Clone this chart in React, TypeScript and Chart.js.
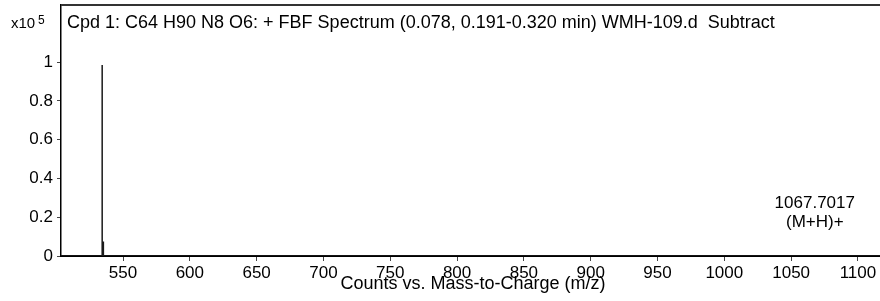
import { useEffect, useRef } from "react";
import { Chart, registerables } from "chart.js";

Chart.register(...registerables);

// ---- data ----
const peakMz = [534.35, 534.45, 535.3];
const peakCounts = [0.985, 0.74, 0.075]; // x10^5 counts
const xMin = 503.6;
const xMax = 1116.5;
const yMax = 1.294;
const xTicks = [550, 600, 650, 700, 750, 800, 850, 900, 950, 1000, 1050, 1100];
const yTicks = [0, 0.2, 0.4, 0.6, 0.8, 1];
const yTickLabels = ["0", "0.2", "0.4", "0.6", "0.8", "1"];
const titleText = "Cpd 1: C64 H90 N8 O6: + FBF Spectrum (0.078, 0.191-0.320 min) WMH-109.d  Subtract";
const xAxisTitle = "Counts vs. Mass-to-Charge (m/z)";
const yScaleText = "x10";
const yScaleExp = "5";
const annotMz = 1067.7017;
const annotY = 0.25;
const annotLines = ["1067.7017", "(M+H)+"];

const FONT = "'Liberation Sans', Arial, sans-serif";

function buildSpectrum() {
  const pts: { x: number; y: number }[] = [{ x: xMin, y: 0 }];
  peakMz.forEach((m, i) => {
    pts.push({ x: m - 0.02, y: 0 });
    pts.push({ x: m, y: peakCounts[i] });
    pts.push({ x: m + 0.02, y: 0 });
  });
  pts.push({ x: xMax, y: 0 });
  return pts;
}

const decorPlugin = {
  id: "decor",
  afterDraw(chart: any) {
    const { ctx, chartArea } = chart;
    const xs = chart.scales.x;
    const ys = chart.scales.y;
    ctx.save();
    // top frame line
    ctx.strokeStyle = "#333";
    ctx.lineWidth = 2;
    ctx.beginPath();
    ctx.moveTo(chartArea.left, chartArea.top);
    ctx.lineTo(chartArea.right, chartArea.top);
    ctx.stroke();

    ctx.fillStyle = "#000";
    ctx.textBaseline = "alphabetic";
    ctx.textAlign = "left";
    ctx.font = `18px ${FONT}`;
    ctx.fillText(titleText, chartArea.left + 6, 28);

    ctx.font = `15px ${FONT}`;
    ctx.fillText(yScaleText, 11, 28);
    ctx.font = `12px ${FONT}`;
    ctx.fillText(yScaleExp, 38, 24);

    // annotation
    ctx.textAlign = "center";
    ctx.font = `17px ${FONT}`;
    const ax = xs.getPixelForValue(annotMz);
    const ay = ys.getPixelForValue(annotY);
    ctx.fillText(annotLines[0], ax, ay);
    ctx.fillText(annotLines[1], ax, ay + 19);

    // x axis title
    ctx.font = `18px ${FONT}`;
    ctx.fillText(xAxisTitle, 473, 289);
    ctx.restore();
  },
};

export default function App() {
  const ref = useRef<HTMLCanvasElement>(null);
  useEffect(() => {
    document.body.style.margin = "0";
    const chart = new Chart(ref.current!, {
      type: "scatter",
      data: {
        datasets: [
          {
            data: buildSpectrum(),
            showLine: true,
            borderColor: "#1a1a1a",
            borderWidth: 1.5,
            pointRadius: 0,
            tension: 0,
          },
        ],
      },
      plugins: [decorPlugin],
      options: {
        animation: false,
        responsive: false,
        devicePixelRatio: 1,
        layout: { padding: { top: 5, right: 0, left: 0, bottom: 0 } },
        plugins: { legend: { display: false }, tooltip: { enabled: false } },
        scales: {
          x: {
            type: "linear",
            min: xMin,
            max: xMax,
            afterFit: (s: any) => {
              s.height = 45;
              s.paddingLeft = 0;
              s.paddingRight = 0;
            },
            afterBuildTicks: (s: any) => {
              s.ticks = xTicks.map((v) => ({ value: v }));
            },
            ticks: {
              color: "#000",
              font: { family: FONT, size: 17 },
              padding: 2,
              maxRotation: 0,
              autoSkip: false,
              callback: (v: any) => String(v),
            },
            grid: {
              display: true,
              drawOnChartArea: false,
              drawTicks: true,
              tickLength: 5,
              color: "#444",
              lineWidth: 1,
            },
            border: { display: true, color: "#000", width: 2 },
          },
          y: {
            type: "linear",
            min: 0,
            max: yMax,
            afterFit: (s: any) => {
              s.width = 61;
              s.paddingTop = 0;
              s.paddingBottom = 0;
            },
            afterBuildTicks: (s: any) => {
              s.ticks = yTicks.map((v) => ({ value: v }));
            },
            ticks: {
              color: "#000",
              font: { family: FONT, size: 17 },
              padding: 4,
              autoSkip: false,
              callback: (v: any) => {
                const i = yTicks.indexOf(Number(v));
                return i >= 0 ? yTickLabels[i] : "";
              },
            },
            grid: {
              display: true,
              drawOnChartArea: false,
              drawTicks: true,
              tickLength: 4,
              color: "#444",
              lineWidth: 1,
            },
            border: { display: true, color: "#000", width: 1.5 },
          },
        },
      },
    });
    return () => chart.destroy();
  }, []);
  return (
    <div style={{ width: 880, height: 301 }}>
      <canvas ref={ref} width={880} height={301} style={{ display: "block" }} />
    </div>
  );
}
